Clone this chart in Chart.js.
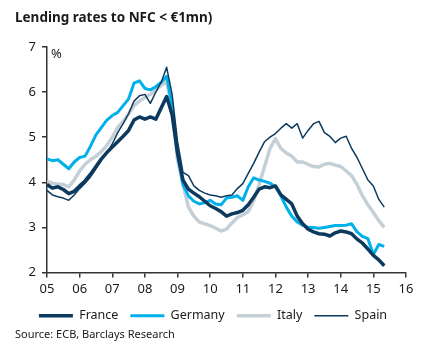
<!DOCTYPE html>
<html>
<head>
<meta charset="utf-8">
<script src="https://cdn.jsdelivr.net/npm/chart.js@4"></script>
<style>
  body { margin: 0; background: #fff; font-family: "Noto Sans", sans-serif; }
  #wrap { position: relative; width: 430px; height: 358px; }
  #chart { position: absolute; left: 0; top: 0; }
  .title { position: absolute; left: 15px; top: 8px; font-size: 13.5px; font-weight: bold; color: #1a1a1a; }
  .unit { position: absolute; left: 51px; top: 44px; font-size: 13px; color: #1a1a1a; }
  .source { position: absolute; left: 15px; top: 326px; font-size: 11px; color: #1a1a1a; }
</style>
</head>
<body>
<div id="wrap">
  <canvas id="chart" width="430" height="358"></canvas>
  <div class="title">Lending rates to NFC &lt; €1mn)</div>
  <div class="unit">%</div>
  <div class="source">Source: ECB, Barclays Research</div>
</div>
<script>
// bi-monthly observations, Jan 2005 .. May 2015
var dates = [];
for (var i = 0; i < 63; i++) dates.push(2005 + i / 6);

var xTickLabels = ['05', '06', '07', '08', '09', '10', '11', '12', '13', '14', '15', '16'];

var france = [3.95, 3.87, 3.90, 3.84, 3.75, 3.80, 3.92, 4.03, 4.18, 4.35, 4.52, 4.66,
    4.78, 4.90, 5.02, 5.15, 5.38, 5.45, 5.40, 5.45, 5.40, 5.65, 5.90, 5.50,
    4.65, 4.05, 3.85, 3.76, 3.68, 3.58, 3.48, 3.42, 3.35, 3.25, 3.30, 3.33,
    3.38, 3.50, 3.67, 3.85, 3.90, 3.88, 3.92, 3.72, 3.62, 3.52, 3.25, 3.08,
    2.96, 2.90, 2.86, 2.85, 2.81, 2.88, 2.92, 2.90, 2.86, 2.74, 2.65, 2.52,
    2.38, 2.28, 2.15];

var germany = [4.52, 4.48, 4.50, 4.40, 4.30, 4.45, 4.55, 4.58, 4.80, 5.05, 5.22, 5.38,
    5.48, 5.55, 5.70, 5.85, 6.20, 6.25, 6.08, 6.05, 6.12, 6.22, 6.35, 5.70,
    4.60, 3.95, 3.70, 3.58, 3.52, 3.55, 3.60, 3.52, 3.50, 3.65, 3.67, 3.70,
    3.60, 3.90, 4.10, 4.05, 4.02, 3.98, 3.90, 3.70, 3.45, 3.25, 3.12, 3.05,
    3.00, 3.00, 2.98, 3.00, 3.02, 3.04, 3.04, 3.05, 3.08, 2.90, 2.80, 2.75,
    2.40, 2.62, 2.58];

var italy = [4.02, 3.98, 3.96, 3.95, 3.90, 4.05, 4.25, 4.40, 4.50, 4.58, 4.68, 4.82,
    5.00, 5.22, 5.35, 5.52, 5.70, 5.80, 5.88, 5.95, 6.05, 6.15, 6.25, 5.60,
    4.50, 3.95, 3.45, 3.25, 3.12, 3.08, 3.04, 2.98, 2.92, 2.96, 3.10, 3.22,
    3.28, 3.35, 3.60, 3.95, 4.35, 4.75, 4.97, 4.75, 4.65, 4.58, 4.45, 4.45,
    4.40, 4.35, 4.34, 4.40, 4.42, 4.38, 4.35, 4.25, 4.15, 3.95, 3.70, 3.50,
    3.33, 3.15, 3.00];

var spain = [3.82, 3.72, 3.68, 3.65, 3.60, 3.72, 3.86, 3.98, 4.12, 4.30, 4.48, 4.66,
    4.85, 5.10, 5.30, 5.52, 5.80, 5.92, 5.95, 5.75, 6.00, 6.22, 6.55, 5.95,
    4.90, 4.22, 4.15, 3.92, 3.82, 3.76, 3.72, 3.70, 3.67, 3.70, 3.72, 3.86,
    3.97, 4.20, 4.42, 4.67, 4.90, 5.00, 5.08, 5.20, 5.30, 5.20, 5.30, 4.98,
    5.15, 5.30, 5.35, 5.10, 5.02, 4.88, 4.98, 5.02, 4.75, 4.55, 4.30, 4.05,
    3.92, 3.62, 3.45];

function pts(values) {
    return values.map(function(v, i) { return { x: dates[i], y: v }; });
}

var colors = {
    france: '#0c3a5e',
    germany: '#00b0ea',
    italy: '#c5cfd6',
    spain: '#0c3a5e'
};

var axisColor = '#333333';
var font = { family: '"Noto Sans", sans-serif', size: 13 };

var ctx = document.getElementById('chart').getContext('2d');
new Chart(ctx, {
    type: 'line',
    data: {
        datasets: [
            { label: 'France', data: pts(france), borderColor: colors.france, backgroundColor: colors.france, borderWidth: 3.5, order: 1 },
            { label: 'Germany', data: pts(germany), borderColor: colors.germany, backgroundColor: colors.germany, borderWidth: 3, order: 2 },
            { label: 'Italy', data: pts(italy), borderColor: colors.italy, backgroundColor: colors.italy, borderWidth: 3.5, order: 3 },
            { label: 'Spain', data: pts(spain), borderColor: colors.spain, backgroundColor: colors.spain, borderWidth: 1.5, order: 0 }
        ]
    },
    options: {
        responsive: false,
        animation: false,
        events: [],
        elements: {
            point: { radius: 0 },
            line: { tension: 0, borderJoinStyle: 'round' }
        },
        layout: {
            padding: { left: 20, right: 24, top: 47, bottom: 26 }
        },
        plugins: {
            tooltip: { enabled: false },
            legend: {
                position: 'bottom',
                labels: {
                    font: { family: '"Noto Sans", sans-serif', size: 12.5 },
                    color: '#1a1a1a',
                    usePointStyle: true,
                    pointStyle: 'line',
                    pointStyleWidth: 34,
                    padding: 12,
                    sort: function(a, b) { return a.datasetIndex - b.datasetIndex; }
                }
            }
        },
        scales: {
            x: {
                type: 'linear',
                min: 2005,
                max: 2016,
                afterFit: function(scale) { scale.height = 25; },
                ticks: {
                    stepSize: 1,
                    font: font,
                    color: '#1a1a1a',
                    padding: 4,
                    maxRotation: 0,
                    callback: function(value) {
                        return xTickLabels[Math.round(value - 2005)];
                    }
                },
                grid: { drawOnChartArea: false, drawTicks: true, tickLength: 5, color: axisColor, lineWidth: 1.5 },
                border: { color: axisColor, width: 1.5 }
            },
            y: {
                min: 2,
                max: 7,
                afterFit: function(scale) { scale.width = 27; },
                ticks: {
                    stepSize: 1,
                    font: font,
                    color: '#1a1a1a',
                    padding: 6
                },
                grid: { drawOnChartArea: false, drawTicks: true, tickLength: 5, color: axisColor, lineWidth: 1.5 },
                border: { color: axisColor, width: 1.5 }
            }
        }
    }
});
</script>
</body>
</html>
